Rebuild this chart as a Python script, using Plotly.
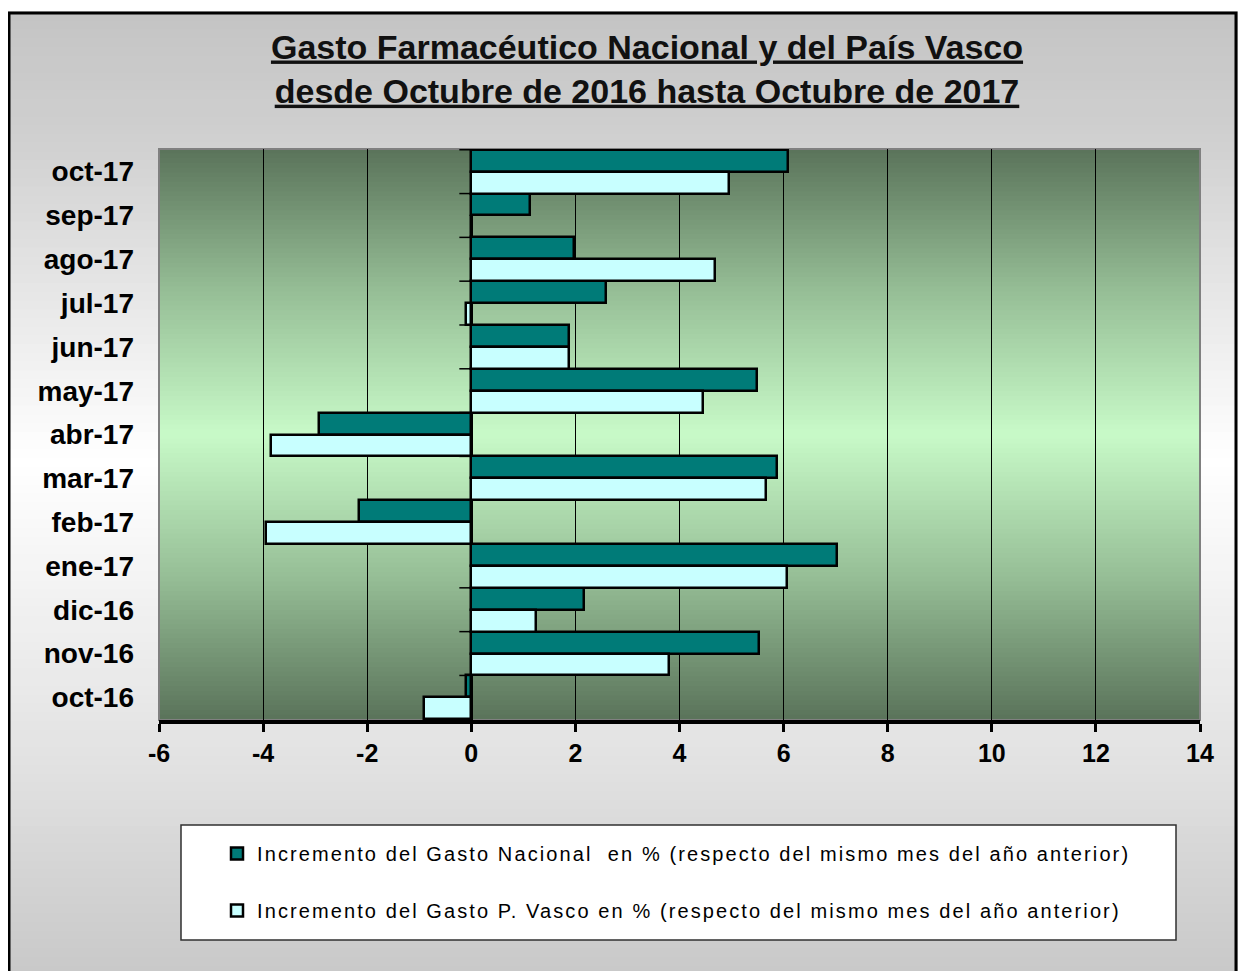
import plotly.graph_objects as go

# ---------------- data ----------------
months = ["oct-16", "nov-16", "dic-16", "ene-17", "feb-17", "mar-17", "abr-17",
          "may-17", "jun-17", "jul-17", "ago-17", "sep-17", "oct-17"]
nacional = [-0.10, 5.52, 2.17, 7.02, -2.15, 5.87, -2.93, 5.48, 1.88, 2.59, 1.98, 1.13, 6.08]
vasco = [-0.90, 3.80, 1.25, 6.06, -3.95, 5.67, -3.84, 4.45, 1.88, -0.10, 4.68, 0.00, 4.95]
x_ticks = [-6, -4, -2, 0, 2, 4, 6, 8, 10, 12, 14]
series_names = [
    "Incremento del Gasto Nacional  en % (respecto del mismo mes del año anterior)",
    "Incremento del Gasto P. Vasco en % (respecto del mismo mes del año anterior)",
]
title_lines = ["Gasto Farmacéutico Nacional y del País Vasco",
               "desde Octubre de 2016 hasta Octubre de 2017"]

# ---------------- geometry (page has an 8px body margin) ----------------
OFF = 8
W, H = 1238, 963
L, R, T, B = 151, 46, 141, 251
PW, PH = W - L - R, H - T - B


def px(xs):
    # screen pixel -> paper x
    return (xs - OFF - L) / PW


def py(ys):
    # screen pixel -> paper y
    return (H - B - (ys - OFF)) / PH


def lerp_stops(stops, v):
    for (a, ca), (b, cb) in zip(stops[:-1], stops[1:]):
        if a <= v <= b:
            t = (v - a) / (b - a) if b > a else 0
            c = [round(ca[i] + (cb[i] - ca[i]) * t) for i in range(3)]
            return "rgb(%d,%d,%d)" % tuple(c)
    c = stops[-1][1] if v > stops[-1][0] else stops[0][1]
    return "rgb(%d,%d,%d)" % tuple(c)


shapes = []

# paper background gradient (inside frame)
paper_stops = [(12, (196, 196, 196)), (140, (208, 208, 208)), (460, (255, 255, 255)),
               (760, (226, 226, 226)), (975, (200, 200, 200))]
n = 110
y_top, y_bot = 12, 975
for i in range(n):
    a = y_top + (y_bot - y_top) * i / n
    b = y_top + (y_bot - y_top) * (i + 1) / n
    shapes.append(dict(type="rect", xref="paper", yref="paper", layer="below",
                       x0=px(8), x1=px(1250), y0=py(a - 0.5), y1=py(b + 0.5),
                       fillcolor=lerp_stops(paper_stops, (a + b) / 2), line=dict(width=0)))

# plot-area gradient
plot_stops = [(0.0, (90, 115, 90)), (0.25, (150, 190, 150)), (0.5, (200, 250, 200)),
              (0.75, (150, 190, 150)), (1.0, (90, 115, 90))]
n = 120
for i in range(n):
    a = i / n
    b = (i + 1) / n
    shapes.append(dict(type="rect", xref="paper", yref="paper", layer="below",
                       x0=0, x1=1, y0=1 - b - 0.001, y1=1 - a + 0.001,
                       fillcolor=lerp_stops(plot_stops, (a + b) / 2), line=dict(width=0)))

# plot-area border
shapes.append(dict(type="rect", xref="paper", yref="paper", layer="below",
                   x0=0, x1=1, y0=0, y1=1, line=dict(color="#808080", width=2),
                   fillcolor="rgba(0,0,0,0)"))

# legend box
shapes.append(dict(type="rect", xref="paper", yref="paper", layer="below",
                   x0=px(181), x1=px(1176), y0=py(940), y1=py(825),
                   fillcolor="white", line=dict(color="#303030", width=1.5)))

# outer frame
shapes.append(dict(type="rect", xref="paper", yref="paper", layer="above",
                   x0=px(9), x1=px(1236), y0=py(990), y1=py(13),
                   fillcolor="rgba(0,0,0,0)", line=dict(color="black", width=3)))

# category tick marks on the zero line
for i in range(len(months) + 1):
    shapes.append(dict(type="line", xref="x", yref="y", layer="above",
                       x0=-0.23, x1=0, y0=i - 0.5, y1=i - 0.5,
                       line=dict(color="black", width=1.5)))

LS = '<span style="letter-spacing:2.1px">%s</span>'

fig = go.Figure()
fig.add_trace(go.Bar(y=months, x=nacional, orientation="h", name=LS % series_names[0],
                     legendgroup="n",
                     marker=dict(color="#007b78", line=dict(color="black", width=2.5))))
fig.add_trace(go.Bar(y=months, x=vasco, orientation="h", name=LS % series_names[1],
                     legendgroup="v",
                     marker=dict(color="#c8ffff", line=dict(color="black", width=2.5))))

fig.update_layout(
    width=W, height=H,
    margin=dict(l=L, r=R, t=T, b=B, pad=0),
    paper_bgcolor="white",
    plot_bgcolor="rgba(0,0,0,0)",
    barmode="group", bargap=0, bargroupgap=0,
    shapes=shapes,
    title=dict(
        text="<u>" + title_lines[0] + "</u><br><u>" + title_lines[1] + "</u>",
        x=(647 - OFF) / W, xanchor="center", xref="container",
        y=1 - 50.5 / H, yanchor="middle", yref="container",
        font=dict(family="Liberation Sans, Arial, sans-serif", size=34, color="#111111",
                  weight="bold"),
    ),
    legend=dict(
        x=px(217), xanchor="left", y=py(834), yanchor="top",
        bgcolor="rgba(0,0,0,0)", borderwidth=0,
        font=dict(family="Liberation Sans, Arial, sans-serif", size=20, color="black"),
        traceorder="grouped", tracegroupgap=28, itemwidth=30,
    ),
    showlegend=True,
    font=dict(family="Liberation Sans, Arial, sans-serif", color="black"),
)

fig.update_xaxes(
    range=[-6, 14], tickvals=x_ticks, ticktext=[str(v) for v in x_ticks],
    ticks="outside", ticklen=8, tickwidth=3, tickcolor="black",
    showline=True, linecolor="black", linewidth=4,
    showgrid=True, gridcolor="black", gridwidth=1,
    zeroline=True, zerolinecolor="black", zerolinewidth=3,
    tickfont=dict(family="Liberation Sans, Arial, sans-serif", size=25, color="black",
                  weight="bold"),
    ticklabelstandoff=0,
)
fig.update_yaxes(
    type="category", categoryorder="array", categoryarray=months[::-1],
    autorange="reversed",
    showgrid=False, ticks="", showline=False, zeroline=False,
    tickfont=dict(family="Liberation Sans, Arial, sans-serif", size=28, color="black",
                  weight="bold"),
    ticklabelstandoff=24,
)

fig.write_html("out.html")
